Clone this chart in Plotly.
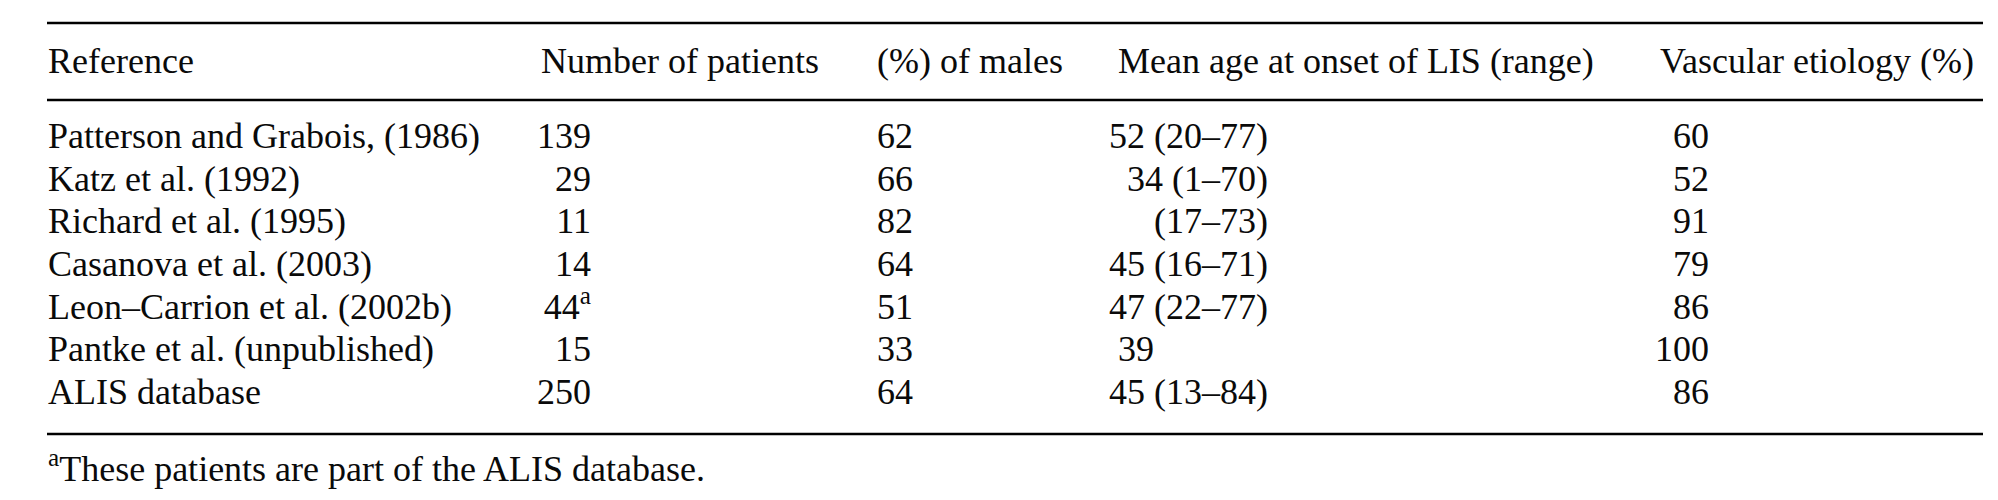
import plotly.graph_objects as go

# =======================
# Table data
# =======================
headers = ["Reference", "Number of patients", "(%) of males",
           "Mean age at onset of LIS (range)", "Vascular etiology (%)"]

references = ["Patterson and Grabois, (1986)", "Katz et al. (1992)",
              "Richard et al. (1995)", "Casanova et al. (2003)",
              "Leon–Carrion et al. (2002b)", "Pantke et al. (unpublished)",
              "ALIS database"]
n_patients = ["139", "29", "11", "14", "44<sup>a</sup>", "15", "250"]
pct_males = ["62", "66", "82", "64", "51", "33", "64"]
mean_age = ["52 (20–77)", "34 (1–70)", "(17–73)", "45 (16–71)",
            "47 (22–77)", "39", "45 (13–84)"]
vascular = ["60", "52", "91", "79", "86", "100", "86"]

footnote = "<sup>a</sup>These patients are part of the ALIS database."

# =======================
# Layout constants (pixels / row units)
# =======================
W, H = 1998, 500
pitch = 42.67          # px per row
row0 = 131             # px centre of first body row

def ry(px):
    return (px - row0) / pitch

font = dict(family="Liberation Serif, Times New Roman, serif", size=36, color="#0a0a0a")
rows = list(range(len(references)))

fig = go.Figure()

def col(x, texts, pos, y=None):
    fig.add_trace(go.Scatter(
        x=[x] * len(texts), y=rows if y is None else y,
        text=texts, mode="text", textposition=pos,
        textfont=font, hoverinfo="skip", showlegend=False))

# header row
hx = [40, 533, 869, 1110, 1652]
fig.add_trace(go.Scatter(
    x=hx, y=[ry(56)] * len(headers), text=headers, mode="text",
    textposition="middle right", textfont=font,
    hoverinfo="skip", showlegend=False))

# body columns
col(40, references, "middle right")
col(583, n_patients, "middle left")
col(869, pct_males, "middle right")

# mean age: ranged entries right-aligned, plain values left-aligned
age_x = [1260 if "(" in a else 1110 for a in mean_age]
age_pos = ["middle left" if "(" in a else "middle right" for a in mean_age]
fig.add_trace(go.Scatter(
    x=age_x, y=rows, text=mean_age, mode="text", textposition=age_pos,
    textfont=font, hoverinfo="skip", showlegend=False))

col(1701, vascular, "middle left")

# footnote
fig.add_trace(go.Scatter(
    x=[40], y=[ry(464)], text=[footnote], mode="text",
    textposition="middle right", textfont=font,
    hoverinfo="skip", showlegend=False))

# horizontal rules
for py in (15, 92, 426):
    fig.add_shape(type="line", x0=39, x1=1975, y0=ry(py), y1=ry(py),
                  line=dict(color="black", width=2.5))

fig.update_layout(
    width=W, height=H,
    margin=dict(l=0, r=0, t=0, b=0),
    paper_bgcolor="white", plot_bgcolor="white",
    xaxis=dict(range=[0, W], visible=False, fixedrange=True),
    yaxis=dict(range=[ry(H), ry(0)], visible=False, fixedrange=True),
)

fig.write_html("out.html")
